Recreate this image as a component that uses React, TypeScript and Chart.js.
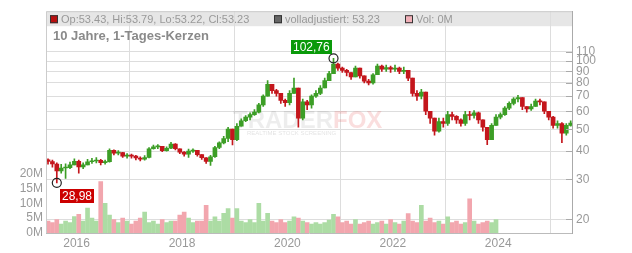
import React, { useEffect, useRef } from 'react';
import { Chart, registerables } from 'chart.js';

Chart.register(...registerables);

// ---------- data (monthly candles, Jun 2015 – May 2025) ----------
const START_YEAR = 2015;
const START_MONTH = 6;
const firstOpen = 36.6;

const closes = [
  36.0, 35.1, 32.7, 33.7, 33.8, 34.8, 36.1, 34.1, 34.8, 35.9,
  36.2, 36.4, 35.6, 35.9, 40.3, 39.2, 39.4, 38.0, 38.3, 38.0,
  37.3, 36.9, 37.5, 41.0, 41.8, 42.0, 40.2, 41.2, 43.0, 41.0,
  39.6, 38.8, 40.0, 40.3, 38.6, 37.4, 36.0, 37.8, 41.5, 43.5,
  45.5, 50.0, 45.0, 51.5, 54.5, 56.5, 58.0, 59.5, 64.0, 70.0,
  79.0, 74.0, 72.0, 67.0, 65.5, 72.0, 76.0, 56.0, 66.0, 64.0,
  70.0, 72.0, 76.0, 82.0, 88.0, 97.0, 93.0, 91.0, 89.0, 85.0,
  93.0, 86.0, 81.5, 80.0, 87.0, 95.0, 92.0, 93.5, 92.0, 93.0,
  90.0, 91.0, 84.0, 72.0, 70.0, 73.0, 60.0, 56.0, 49.0, 54.0,
  53.0, 58.0, 57.0, 55.0, 53.0, 58.0, 57.5, 59.0, 55.0, 51.0,
  45.0, 52.0, 56.5, 58.0, 62.0, 65.0, 68.0, 69.0, 63.0, 61.5,
  63.0, 66.5, 66.0, 60.0, 56.5, 52.0, 53.0, 48.0, 52.0, 53.23,
];

const highs = [
  37.0, 36.5, 35.5, 35.0, 35.2, 35.8, 37.0, 36.5, 35.5, 36.8,
  37.2, 37.5, 36.8, 36.5, 41.0, 40.5, 40.2, 39.5, 39.0, 38.8,
  38.3, 37.8, 38.2, 41.5, 42.5, 42.8, 42.0, 41.8, 43.8, 43.2,
  41.0, 39.8, 40.8, 41.0, 40.3, 38.5, 37.5, 38.3, 42.0, 44.0,
  46.5, 51.0, 50.0, 53.0, 55.5, 57.5, 59.0, 61.0, 65.0, 71.0,
  82.0, 79.0, 75.0, 72.0, 68.0, 74.0, 84.0, 76.0, 68.0, 67.0,
  71.0, 74.0, 78.0, 84.0, 90.0, 102.76, 98.0, 94.0, 92.0, 89.0,
  95.0, 93.0, 86.0, 83.0, 88.0, 97.0, 96.0, 96.0, 95.0, 96.0,
  94.0, 94.0, 91.0, 84.0, 74.0, 75.0, 73.0, 60.0, 56.0, 56.0,
  56.0, 60.0, 59.5, 57.5, 55.5, 60.0, 60.0, 60.5, 59.5, 55.0,
  50.0, 53.0, 58.0, 59.0, 63.0, 66.0, 69.0, 70.5, 69.0, 63.0,
  64.5, 68.0, 68.0, 66.0, 60.0, 57.0, 54.5, 53.5, 53.0, 54.5,
];

const lows = [
  35.0, 34.0, 28.98, 32.0, 30.3, 33.5, 35.0, 32.0, 33.5, 34.8,
  35.3, 35.5, 34.8, 35.0, 35.8, 38.5, 38.5, 37.5, 37.2, 37.2,
  36.6, 36.2, 36.5, 37.3, 40.8, 41.0, 39.8, 40.0, 41.0, 40.5,
  39.0, 38.0, 37.5, 39.5, 38.0, 36.8, 35.3, 34.6, 37.5, 41.0,
  43.0, 44.0, 42.6, 44.5, 51.5, 54.0, 55.0, 57.5, 59.0, 63.0,
  70.0, 72.0, 70.0, 65.0, 63.0, 64.0, 72.0, 51.0, 55.0, 61.0,
  62.0, 69.0, 71.0, 76.0, 82.0, 88.0, 91.0, 89.0, 86.0, 83.0,
  85.0, 84.0, 80.0, 78.5, 79.0, 87.0, 90.0, 90.0, 89.0, 90.0,
  88.0, 88.0, 82.0, 70.0, 67.0, 68.0, 58.0, 53.0, 47.0, 48.5,
  51.0, 52.0, 55.0, 53.0, 51.5, 52.0, 55.0, 56.0, 53.0, 49.0,
  42.7, 45.0, 52.0, 55.5, 57.5, 61.0, 64.0, 66.0, 61.0, 59.5,
  60.5, 63.0, 64.0, 58.5, 55.0, 50.5, 50.5, 43.6, 47.0, 51.5,
];

// volume in millions (data ends Jan 2024)
const volumes = [
  4, 3.5, 4.5, 3, 4, 3.5, 5.5, 6.3, 4, 8.4,
  5, 4, 17.3, 10, 6, 4.5, 3.5, 5, 4, 3,
  4, 5, 7, 3.5, 4, 3, 4.5, 3.5, 4, 4,
  6, 7, 5, 3.5, 4, 4, 9.3, 4, 5.4, 4,
  6.6, 8.2, 5, 8.2, 4, 3.5, 4.5, 3.5, 10, 4,
  6.6, 4, 3.5, 4.5, 3.5, 4, 5.4, 5, 4, 3.5,
  3, 3.5, 3, 3.5, 4.3, 6.3, 5.4, 3.5, 4, 3,
  4.5, 3, 3.5, 4, 3, 3.5, 4, 3, 4.5, 3.5,
  3, 4, 6.5, 4, 3.5, 9.3, 4, 5, 3.5, 4,
  3, 5.4, 3.5, 4, 3, 3.5, 11.5, 4, 3, 3.5,
  4, 3.5, 4.5,
];

const priceTicks = [20, 30, 40, 50, 60, 70, 80, 90, 100, 110];
const volumeTicks = [0, 5, 10, 15, 20];
const yearTicks = [2016, 2018, 2020, 2022, 2024];
const lastOHLC = [53.43, 53.79, 53.22, 53.23];
const lastAdjusted = 53.23;
const lastVolume = 0;
const title = '10 Jahre, 1-Tages-Kerzen';

// ---------- styles ----------
const FONT = '"Liberation Sans", Arial, Helvetica, sans-serif';
const UP = '#3c9e26';
const DOWN = '#c4161c';
const VOL_UP = '#acdca4';
const VOL_DOWN = '#f2a6ae';
const GRID = '#dddddd';
const TEXT = '#999999';

const monthX = closes.map((_, i) => {
  const t = START_YEAR * 12 + (START_MONTH - 1) + i;
  return Math.floor(t / 12) + ((t % 12) + 0.5) / 12;
});
const opens = closes.map((_, i) => (i === 0 ? firstOpen : closes[i - 1]));
const up = closes.map((c, i) => c >= opens[i]);

const fmt = (v: number) => v.toFixed(2).replace('.', ',');

const decorPlugin = {
  id: 'decor',
  beforeDraw(chart: any) {
    const { ctx, chartArea: a } = chart;
    ctx.save();
    ctx.fillStyle = '#e6e6e6';
    ctx.fillRect(a.left, a.top, a.right - a.left, 15);
    ctx.restore();
  },
  beforeDatasetsDraw(chart: any) {
    const { ctx, chartArea: a } = chart;
    ctx.save();
    const wx = a.left + 187;
    const wy = a.top + 117;
    ctx.font = `bold 24px ${FONT}`;
    ctx.textBaseline = 'alphabetic';
    ctx.fillStyle = 'rgba(0,0,0,0.07)';
    ctx.fillText('TRADER', wx, wy);
    const w = ctx.measureText('TRADER').width;
    ctx.fillStyle = 'rgba(225,70,70,0.18)';
    ctx.fillText('FOX', wx + w, wy);
    ctx.font = `6px ${FONT}`;
    ctx.fillStyle = 'rgba(0,0,0,0.12)';
    ctx.fillText('REALTIME STOCK SCREENING', wx + 14, wy + 7);
    ctx.restore();
  },
  afterDraw(chart: any) {
    const { ctx, chartArea: a } = chart;
    const xs = chart.scales.x;
    const ys = chart.scales.y;
    ctx.save();
    // frame (left/top)
    ctx.strokeStyle = '#cccccc';
    ctx.lineWidth = 1;
    ctx.beginPath();
    ctx.moveTo(a.left + 0.5, a.bottom);
    ctx.lineTo(a.left + 0.5, a.top + 0.5);
    ctx.lineTo(a.right, a.top + 0.5);
    ctx.stroke();
    // right axis tick marks (inside)
    ctx.strokeStyle = '#aaaaaa';
    priceTicks.forEach((v) => {
      const py = Math.round(ys.getPixelForValue(v)) + 0.5;
      ctx.beginPath();
      ctx.moveTo(a.right - 6, py);
      ctx.lineTo(a.right, py);
      ctx.stroke();
    });

    // header legend
    const hy = a.top + 8;
    ctx.font = `11px ${FONT}`;
    ctx.textBaseline = 'middle';
    const items = [
      { x: a.left + 4, fill: '#b80f0f', text: `Op:${lastOHLC[0]}, Hi:${lastOHLC[1]}, Lo:${lastOHLC[2]}, Cl:${lastOHLC[3]}` },
      { x: a.left + 228, fill: '#666666', text: `volladjustiert: ${lastAdjusted}` },
      { x: a.left + 359, fill: '#f2b0b8', text: `Vol: ${lastVolume}M` },
    ];
    items.forEach((it) => {
      ctx.fillStyle = it.fill;
      ctx.fillRect(it.x, hy - 4, 8, 8);
      ctx.strokeStyle = '#333333';
      ctx.strokeRect(it.x + 0.5, hy - 3.5, 7, 7);
      ctx.fillStyle = TEXT;
      ctx.fillText(it.text, it.x + 11, hy + 0.5);
    });

    // title
    ctx.font = `bold 13px ${FONT}`;
    ctx.fillStyle = '#8a8a8a';
    ctx.fillText(title, a.left + 7, a.top + 25);

    // high / low annotations
    let hiIdx = 0;
    let loIdx = 0;
    highs.forEach((v, i) => { if (v > highs[hiIdx]) hiIdx = i; });
    lows.forEach((v, i) => { if (v < lows[loIdx]) loIdx = i; });
    const drawMark = (idx: number, val: number, color: string, isHigh: boolean) => {
      const cx = xs.getPixelForValue(monthX[idx]);
      const cy = ys.getPixelForValue(val);
      ctx.strokeStyle = '#222222';
      ctx.lineWidth = 1.2;
      ctx.beginPath();
      ctx.arc(cx, cy, 4.5, 0, Math.PI * 2);
      ctx.stroke();
      ctx.font = `12px ${FONT}`;
      const t = fmt(val);
      const w = ctx.measureText(t).width + 4;
      const h = 14;
      const bx = isHigh ? cx - 2 - w : cx + 3;
      const by = isHigh ? cy - 4 - h : cy + 6;
      ctx.fillStyle = color;
      ctx.fillRect(Math.round(bx), Math.round(by), Math.round(w), h);
      ctx.fillStyle = '#ffffff';
      ctx.textBaseline = 'middle';
      ctx.fillText(t, Math.round(bx) + 2, Math.round(by) + h / 2 + 0.5);
    };
    drawMark(hiIdx, highs[hiIdx], '#0a9a0a', true);
    drawMark(loIdx, lows[loIdx], '#cc0000', false);
    ctx.restore();
  },
};

export default function App() {
  const ref = useRef<HTMLCanvasElement | null>(null);

  useEffect(() => {
    if (!ref.current) return;
    Chart.defaults.font.family = FONT;
    const candleColors = up.map((u) => (u ? UP : DOWN));
    const chart = new Chart(ref.current, {
      type: 'bar',
      data: {
        datasets: [
          {
            label: 'Volumen',
            yAxisID: 'vol',
            data: volumes.map((v, i) => ({ x: monthX[i], y: v })),
            backgroundColor: volumes.map((_, i) => (up[i] ? VOL_UP : VOL_DOWN)),
            barThickness: 4,
            grouped: false,
            borderWidth: 0,
            order: 3,
          } as any,
          {
            label: 'Docht',
            yAxisID: 'y',
            data: closes.map((c, i) => ({
              x: monthX[i],
              y: [Math.min(lows[i], opens[i], c), Math.max(highs[i], opens[i], c)],
            })),
            backgroundColor: candleColors,
            barThickness: 1,
            grouped: false,
            borderWidth: 0,
            order: 2,
          } as any,
          {
            label: 'Kerze',
            yAxisID: 'y',
            data: closes.map((c, i) => ({ x: monthX[i], y: [opens[i], c] })),
            backgroundColor: candleColors,
            barThickness: 4,
            minBarLength: 1,
            grouped: false,
            borderWidth: 0,
            order: 1,
          } as any,
        ],
      },
      options: {
        responsive: false,
        animation: false,
        devicePixelRatio: 1,
        layout: { padding: { top: 8, left: 0, right: 0, bottom: 0 } },
        plugins: { legend: { display: false }, tooltip: { enabled: false } },
        scales: {
          x: {
            type: 'linear',
            min: 2015.42,
            max: 2025.4,
            offset: false,
            afterBuildTicks: (s: any) => { s.ticks = yearTicks.map((v) => ({ value: v })); },
            afterFit: (s: any) => { s.height = 20; },
            ticks: {
              callback: (v: any) => String(v),
              color: TEXT,
              font: { size: 12 },
              padding: 3,
              maxRotation: 0,
              autoSkip: false,
            },
            grid: { color: GRID, drawTicks: false },
            border: { color: '#bbbbbb' },
          },
          y: {
            type: 'logarithmic',
            position: 'right',
            min: 17.4,
            max: 166,
            afterBuildTicks: (s: any) => { s.ticks = priceTicks.map((v) => ({ value: v })); },
            afterFit: (s: any) => { s.width = 60; },
            ticks: {
              callback: (v: any) => String(v),
              color: TEXT,
              font: { size: 12 },
              padding: 4,
              autoSkip: false,
            },
            grid: { color: GRID, drawTicks: false },
            border: { color: '#aaaaaa' },
          },
          vol: {
            type: 'linear',
            position: 'left',
            min: 0,
            max: 74.5,
            afterBuildTicks: (s: any) => { s.ticks = volumeTicks.map((v) => ({ value: v })); },
            afterFit: (s: any) => { s.width = 46; },
            ticks: {
              callback: (v: any) => `${v}M`,
              color: TEXT,
              font: { size: 12 },
              padding: 3,
              autoSkip: false,
            },
            grid: { display: false, drawTicks: false },
            border: { display: false },
          },
        } as any,
      },
      plugins: [decorPlugin],
    });
    return () => chart.destroy();
  }, []);

  return (
    <div style={{ position: 'fixed', left: 0, top: 0, width: 632, height: 253, background: '#ffffff' }}>
      <canvas ref={ref} width={632} height={253} style={{ width: 632, height: 253, display: 'block' }} />
    </div>
  );
}
